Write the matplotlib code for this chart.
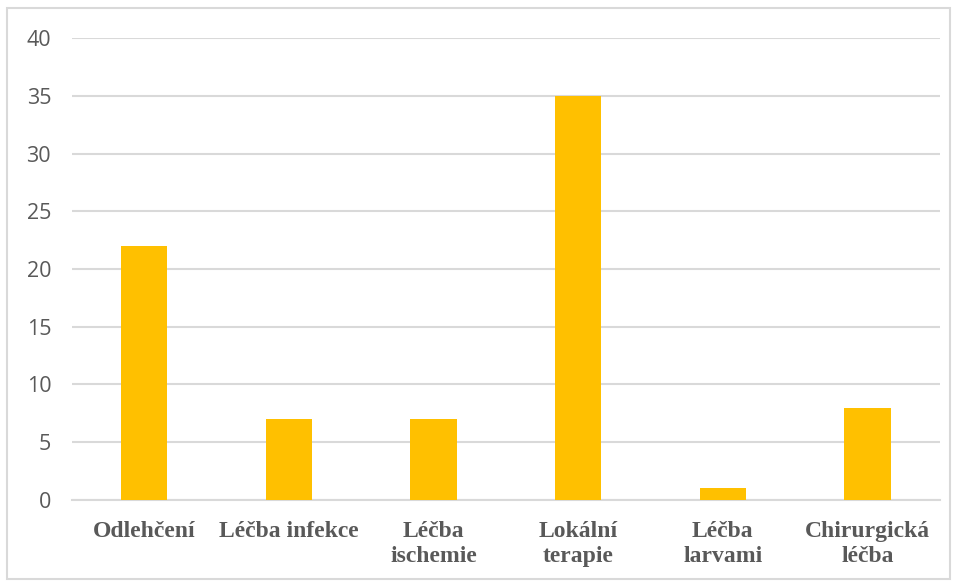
import matplotlib
matplotlib.use("Agg")
import matplotlib.pyplot as plt
from matplotlib.patches import Rectangle

categories = ["Odlehčení", "Léčba infekce", "Léčba\nischemie", "Lokální\nterapie",
              "Léčba\nlarvami", "Chirurgická\nléčba"]
values = [22, 7, 7, 35, 1, 8]
yticks = [0, 5, 10, 15, 20, 25, 30, 35, 40]

fig = plt.figure(figsize=(9.55, 5.82), dpi=100)
fig.patch.set_facecolor("white")

# light frame around the whole chart
fig.patches.append(Rectangle((0.007, 0.006), 0.988, 0.981, transform=fig.transFigure,
                             fill=False, edgecolor="#D9D9D9", linewidth=1.5))

ax = fig.add_axes([0.0754, 0.1409, 0.9086, 0.7938])
x = range(len(categories))
ax.bar(x, values, width=0.32, color="#FFC000", zorder=3)

ax.set_xlim(-0.5, len(categories) - 0.5)
ax.set_ylim(0, 40)
ax.set_yticks(yticks)
ax.yaxis.grid(True, color="#D9D9D9", linewidth=1.5, zorder=0)
ax.set_axisbelow(True)

for s in ["top", "right", "left"]:
    ax.spines[s].set_visible(False)
ax.spines["bottom"].set_color("#D9D9D9")
ax.spines["bottom"].set_linewidth(1.5)

ax.tick_params(axis="y", length=0, pad=15, labelsize=15.5, labelcolor="#595959")
ax.tick_params(axis="x", length=0, pad=15)
for lbl in ax.get_yticklabels():
    lbl.set_fontfamily("Open Sans")

ax.set_xticks(list(x))
ax.set_xticklabels(categories, fontfamily="Liberation Serif", fontweight="bold",
                   fontsize=17, color="#595959", linespacing=1.25)

fig.savefig("out.png", dpi=100)
